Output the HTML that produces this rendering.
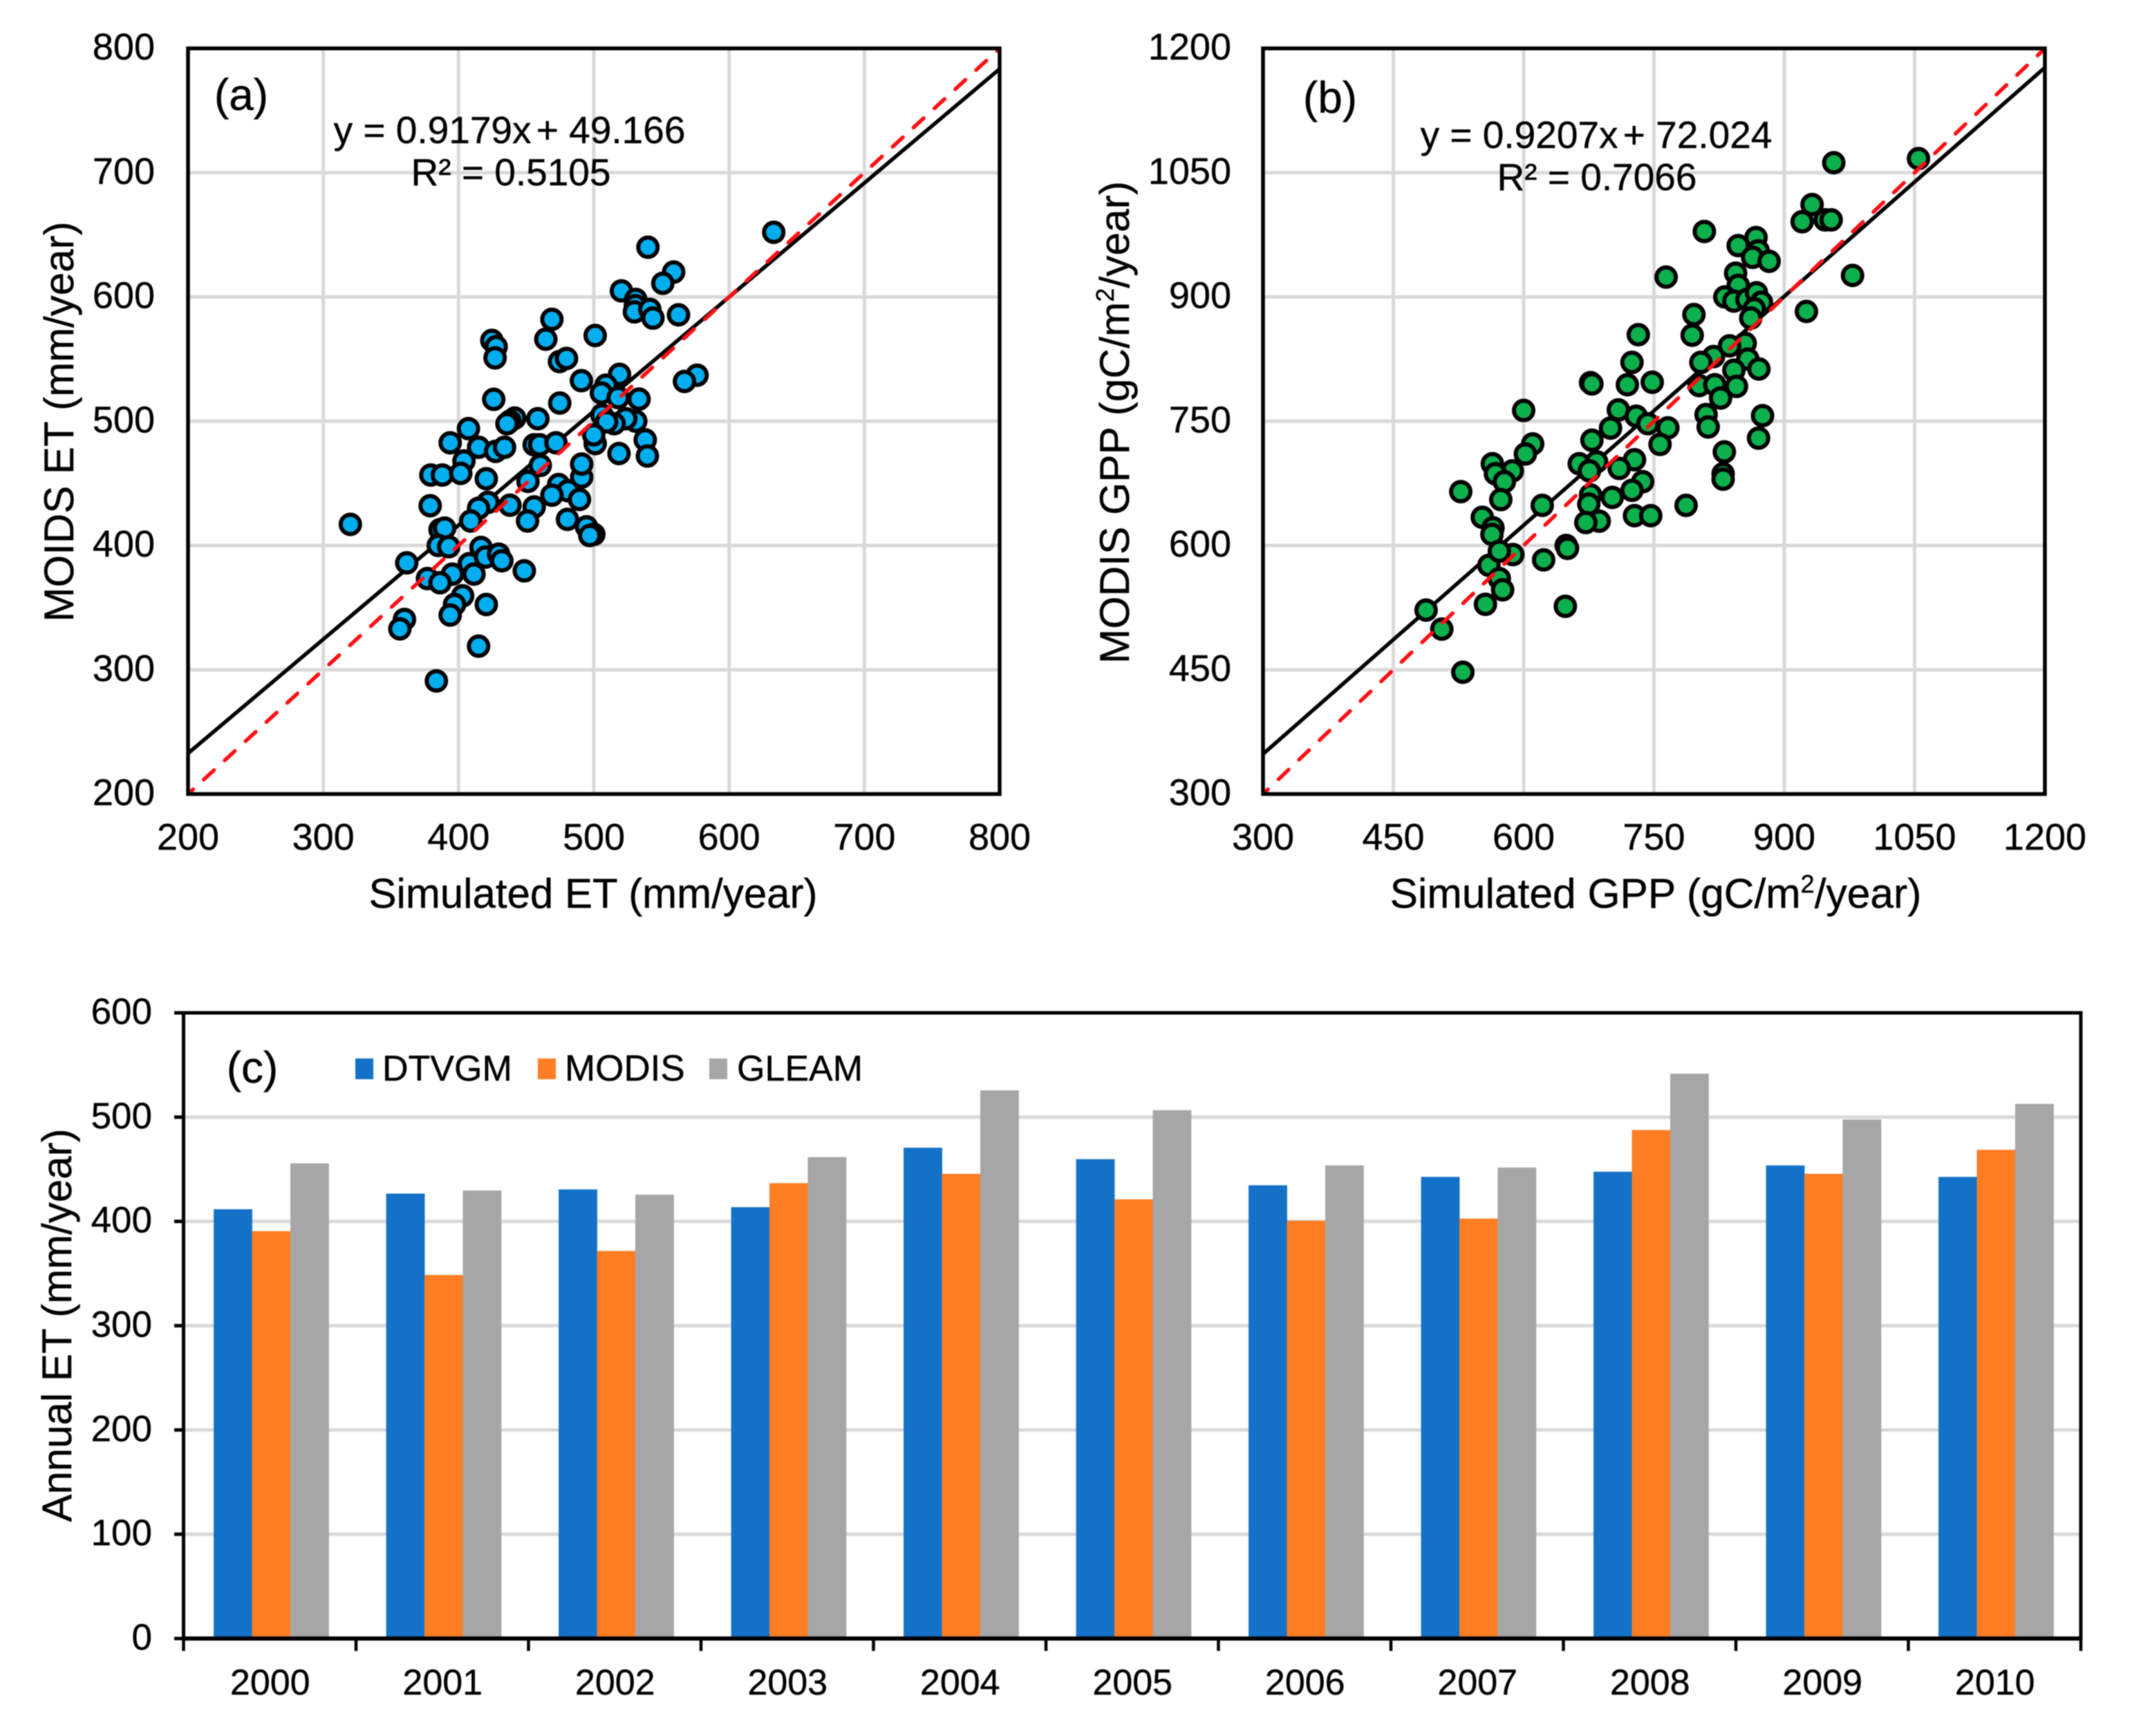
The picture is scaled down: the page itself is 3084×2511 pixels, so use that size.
<!DOCTYPE html>
<html lang="en">
<head>
<meta charset="utf-8">
<title>Simulated vs MODIS ET and GPP</title>
<style>
html,body{margin:0;padding:0;background:#fff;overflow:hidden;}
svg{display:block;filter:blur(0.7px);}
text{font-family:"Liberation Sans",Arial,sans-serif;fill:#000;stroke:#000;stroke-width:0.4px;}
</style>
</head>
<body>
<svg id="figure" xmlns="http://www.w3.org/2000/svg" width="3084" height="2511" viewBox="0 0 3084 2511">
  <rect x="0" y="0" width="3084" height="2511" fill="#ffffff"/>
  <g id="panelA"></g>
  <g id="panelB"></g>
  <g id="panelC"></g>

  <text x="349" y="159" font-size="64" text-anchor="middle">(a)</text>
  <text x="737" y="207" font-size="55" text-anchor="middle">y = 0.9179x<tspan dx="-8"> + 49.166</tspan></text>
  <text x="739" y="268" font-size="55" text-anchor="middle">R² = 0.5105</text>
  <text x="858" y="1313" font-size="60" text-anchor="middle">Simulated ET (mm/year)</text>
  <text transform="translate(106,610) rotate(-90)" font-size="60" text-anchor="middle">MOIDS ET (mm/year)</text>

  <text x="1924" y="163" font-size="64" text-anchor="middle">(b)</text>
  <text x="2309" y="214" font-size="55" text-anchor="middle">y = 0.9207x<tspan dx="-8"> + 72.024</tspan></text>
  <text x="2310" y="275" font-size="55" text-anchor="middle">R² = 0.7066</text>
  <text x="2395" y="1313" font-size="60.5" text-anchor="middle">Simulated GPP (gC/m<tspan font-size="36" dy="-22">2</tspan><tspan dy="22">/year)</tspan></text>
  <text transform="translate(1633,611) rotate(-90)" font-size="60.5" text-anchor="middle">MODIS GPP (gC/m<tspan font-size="36" dy="-22">2</tspan><tspan dy="22">/year)</tspan></text>

  <text x="365" y="1566" font-size="64" text-anchor="middle">(c)</text>
  <text transform="translate(103,1917) rotate(-90)" font-size="60" text-anchor="middle">Annual ET (mm/year)</text>
  <g>
    <rect x="514" y="1531" width="26" height="30" fill="#1372c8"/>
    <text x="553" y="1563" font-size="52">DTVGM</text>
    <rect x="778" y="1531" width="26" height="30" fill="#ff7d23"/>
    <text x="817" y="1563" font-size="53">MODIS</text>
    <rect x="1026" y="1531" width="26" height="30" fill="#a6a6a6"/>
    <text x="1066" y="1563" font-size="52">GLEAM</text>
  </g>
</svg>
<script>
// Panel (a) values
var etSimulated = [633,540,559,551,520.4,531,530.7,530,541.4,543.7,562.6,469,464.5,501,424.6,427.8,427,474.6,479.8,576.3,567,519,509,505.6,490.8,474.8,426,518,533.4,458.6,441.5,438,435.8,407.3,531,523.6,515,506,509.5,501,499.9,518.6,538,539.6,393.8,414.8,427.4,434,455.9,460,472,404,460.4,451.3,491,491,379.5,388,401.6,420.5,474,481,469,489.4,379,421.7,414.8,409,438,455.9,451,480.5,494.6,500,497,386.3,389.7,385,392.7,361.7,416.6,408,420,429.6,432,448.6,411.4,395.4,377,386.3,403,397,393.8,420.5,360,356.6,414.8,383.6,320];
var etModis = [652,640,620,611,604.9,598,593,588,590,583,585.6,582,566,569,565,560,551,548,550.5,537,532,537.7,529,522.7,532.6,514.6,517.6,519,517.8,502,502.5,500,498,494,500,502,498,505,499.5,482,489,474,485,472,482.6,479,475.7,479,481,481,482.6,468,464.4,451.6,455,465.5,456.7,456.7,458,453.7,449,444,440.5,437,432,434.7,430,419.7,432.4,431,419.7,421,415,409,408,412.7,414,400,399,386,398.4,385.4,390.7,393,387.7,379.6,377,376.9,373.4,370,359.5,352.5,344,352.5,340.5,332.9,319,291,417];
var etTicks = [200,300,400,500,600,700,800];
var etFitSlope = [0.9179];
var etFitIntercept = [49.166];

// Panel (b) values
var gppSimulated = [1054.5,957,932,920.6,947,954,808,867.5,847,870,863.5,882.6,844,978.6,764,847,831.6,842,857,868,873.7,865.5,861.4,925.5,796,794,732,855,837,724.7,818.6,804,858,870.8,842,677,678.6,719.4,748,802,820,845,826.7,600,709,729.6,810,812.4,875,870.4,743,766,700,678.6,757,610.4,602,831,564,587,567.5,577.8,664,684,675.7,727.6,710,737,724.7,829.6,829.6,573.7,527.6,552.4,621.4,677,675,702,787,687,671.6,727.6,746.3,564.7,563.5,649,587.6,623,650.5,560,572,575.8,556,648,487.7,505.8,530,572];
var gppModis = [1067,1062,1011.5,990.8,993,993,979,971.7,962,955.7,947.8,943,928.7,926,924,914,900,895,897,905,893.6,885.7,874.5,882.5,878.7,853.8,854.4,844,841,821,828,821,825,813,811.5,796.5,795,794,797,793,794,792,778,763,763.7,756,758,743,756.7,729.6,747,742,741.7,727,722,722.6,710.5,713,698.7,690,686.6,677,698.7,701,690,703.5,693,677,666.6,686.6,680,655.4,665,634,648.4,661,650,658,648.4,629.3,627.7,636,636,621.3,613.4,600,589,582.6,596.6,576,560,546.5,529,526.6,522,499,447,593];
var gppTicks = [300,450,600,750,900,1050,1200];
var gppFitSlope = [0.9207];
var gppFitIntercept = [72.024];

// Panel (c) values
var years = ['2000','2001','2002','2003','2004','2005','2006','2007','2008','2009','2010'];
var dtvgmValues = [411,426,430,413,470,459,434,442,447,453,442];
var modisValues = [390,348,371,436,445,420.5,400,402,487,445,468];
var gleamValues = [455,429,425,461,525,506,453,451,541,497,512];
var annualTicks = [0,100,200,300,400,500,600];

var NS = 'http://www.w3.org/2000/svg';
function mk(parent, tag, attrs, text) {
  var el = document.createElementNS(NS, tag);
  for (var k in attrs) { el.setAttribute(k, attrs[k]); }
  if (text !== undefined) { el.textContent = text; }
  parent.appendChild(el);
  return el;
}
function scale(d0, d1, r0, r1) {
  return function (v) { return r0 + (v - d0) * (r1 - r0) / (d1 - d0); };
}

function drawScatter(parent, o) {
  var sx = scale(o.min, o.max, o.left, o.right);
  var sy = scale(o.min, o.max, o.bottom, o.top);
  var clipId = o.prefix + '-clip';
  var defs = mk(parent, 'defs', {});
  var clip = mk(defs, 'clipPath', { id: clipId });
  mk(clip, 'rect', { x: o.left, y: o.top, width: o.right - o.left, height: o.bottom - o.top });

  o.ticks.forEach(function (t) {
    if (t !== o.min && t !== o.max) {
      var gv = mk(parent, 'line', { x1: sx(t), x2: sx(t), y1: o.top, y2: o.bottom, stroke: '#d9d9d9', 'stroke-width': 5 });
      
      
      var gh = mk(parent, 'line', { x1: o.left, x2: o.right, y1: sy(t), y2: sy(t), stroke: '#d9d9d9', 'stroke-width': 5 });
      
      
    }
    var tx = mk(parent, 'text', { x: sx(t), y: o.xLabelY, 'font-size': 54, 'text-anchor': 'middle' }, String(t));
    
    
    var ty = mk(parent, 'text', { x: o.yLabelX, y: sy(t) + 16, 'font-size': 54, 'text-anchor': 'end' }, String(t));
    
    
  });

  var fit = mk(parent, 'line', {
    x1: sx(o.min), y1: sy(o.slope * o.min + o.intercept),
    x2: sx(o.max), y2: sy(o.slope * o.max + o.intercept),
    stroke: '#000', 'stroke-width': 5.5, 'clip-path': 'url(#' + clipId + ')'
  });
  
  

  o.xs.forEach(function (x, i) {
    var c = mk(parent, 'circle', { cx: sx(x), cy: sy(o.ys[i]), r: 14, fill: o.color, stroke: '#000', 'stroke-width': 6 });
    
    
  });

  var one = mk(parent, 'line', {
    x1: sx(o.min), y1: sy(o.min), x2: sx(o.max), y2: sy(o.max),
    stroke: '#ff0f14', 'stroke-width': 5.5, 'stroke-linecap': 'round',
    'stroke-dasharray': '20 21', 'stroke-dashoffset': '10', 'clip-path': 'url(#' + clipId + ')'
  });
  
  

  var frame = mk(parent, 'rect', { x: o.left, y: o.top, width: o.right - o.left, height: o.bottom - o.top, fill: 'none', stroke: '#000', 'stroke-width': 5.5 });
  
  
}

drawScatter(document.getElementById('panelA'), {
  prefix: 'a', min: 200, max: 800, left: 272, right: 1446, top: 70, bottom: 1148.5,
  xs: etSimulated, ys: etModis, ticks: etTicks, slope: etFitSlope[0], intercept: etFitIntercept[0],
  color: '#00aeef', xLabelY: 1229, yLabelX: 224
});
drawScatter(document.getElementById('panelB'), {
  prefix: 'b', min: 300, max: 1200, left: 1827, right: 2958, top: 70, bottom: 1148.5,
  xs: gppSimulated, ys: gppModis, ticks: gppTicks, slope: gppFitSlope[0], intercept: gppFitIntercept[0],
  color: '#0cb04c', xLabelY: 1229, yLabelX: 1781
});

(function () {
  var parent = document.getElementById('panelC');
  var left = 265.5, right = 3010, top = 1465, bottom = 2370;
  var sy = scale(0, 600, bottom, top);
  var catW = (right - left) / years.length;
  var barW = catW / 4.5;
  var seriesList = [dtvgmValues, modisValues, gleamValues];
  var seriesNames = ['dtvgm', 'modis', 'gleam'];
  var seriesColors = ['#1372c8', '#ff7d23', '#a6a6a6'];

  annualTicks.forEach(function (t) {
    if (t !== 0 && t !== 600) {
      var g = mk(parent, 'line', { x1: left, x2: right, y1: sy(t), y2: sy(t), stroke: '#d9d9d9', 'stroke-width': 5 });
      
      
    }
    var tick = mk(parent, 'line', { x1: 252, x2: left, y1: sy(t), y2: sy(t), stroke: '#000', 'stroke-width': 5 });
    
    
    var lab = mk(parent, 'text', { x: 220, y: sy(t) + 16, 'font-size': 53, 'text-anchor': 'end' }, String(t));
    
    
  });

  years.forEach(function (year, i) {
    var cx = left + catW * (i + 0.5) + 2;
    seriesList.forEach(function (vals, s) {
      var r = mk(parent, 'rect', {
        x: cx + (s - 1.5) * barW, y: sy(vals[i]) - 1, width: barW + 0.4, height: bottom - sy(vals[i]) + 1, fill: seriesColors[s]
      });
      
      
    });
    var lab = mk(parent, 'text', { x: cx - 1.5, y: 2451, 'font-size': 52, 'text-anchor': 'middle' }, year);
    
    
  });

  for (var i = 0; i <= years.length; i++) {
    var tx = left + catW * i;
    var t = mk(parent, 'line', { x1: tx, x2: tx, y1: bottom, y2: 2388, stroke: '#000', 'stroke-width': 4.5 });
    
    
  }

  var frame = mk(parent, 'rect', { x: left, y: top, width: right - left, height: bottom - top, fill: 'none', stroke: '#000', 'stroke-width': 5 });
  
  
  var base = mk(parent, 'line', { x1: left, x2: right, y1: bottom, y2: bottom, stroke: '#000', 'stroke-width': 6 });
  
  
})();
</script>
</body>
</html>
